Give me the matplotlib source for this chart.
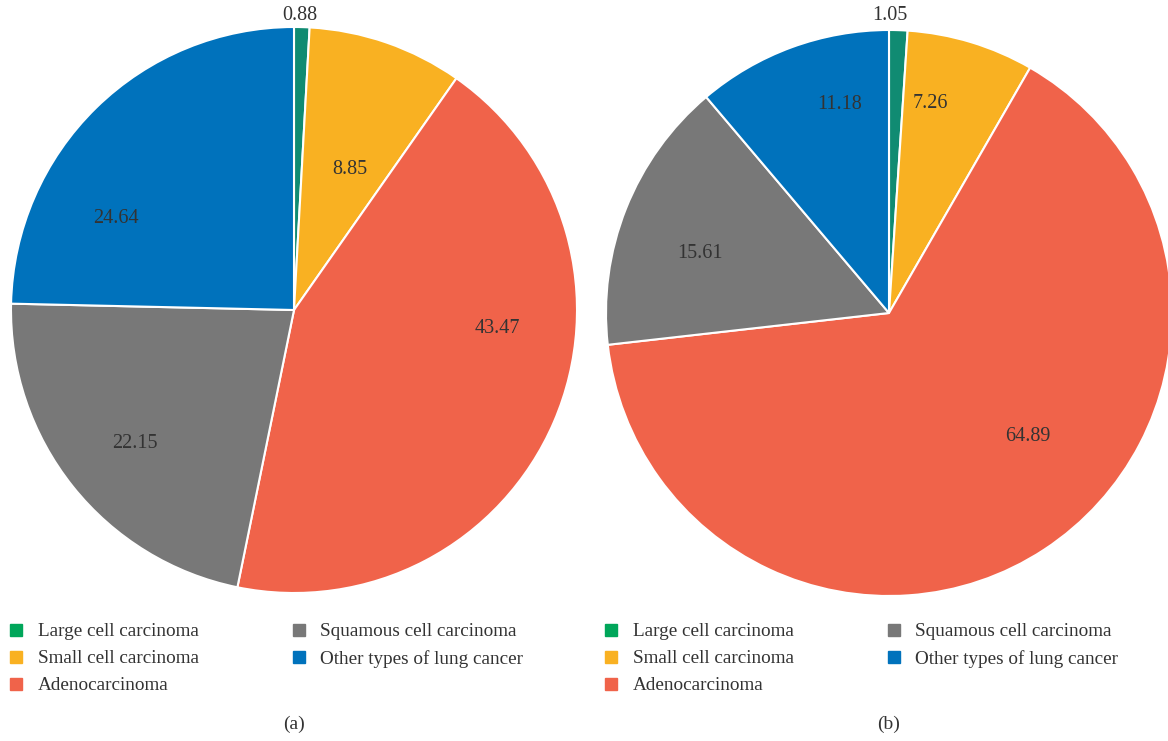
import matplotlib.pyplot as plt
from matplotlib.lines import Line2D

categories = ['Large cell carcinoma', 'Small cell carcinoma', 'Adenocarcinoma',
              'Squamous cell carcinoma', 'Other types of lung cancer']
values_a = [0.88, 8.85, 43.47, 22.15, 24.64]
values_b = [1.05, 7.26, 64.89, 15.61, 11.18]
captions = ['(a)', '(b)']

colors = ['#108b72', '#f9b122', '#f0634a', '#787878', '#0072bc']
legend_colors = ['#00a65a', '#f9b122', '#f0634a', '#787878', '#0072bc']
text_col = '#333333'

plt.rcParams['font.family'] = ['Liberation Serif', 'DejaVu Serif']

W, H = 1168, 741
fig = plt.figure(figsize=(W / 100, H / 100), dpi=100)

# pie centres / radius in pixels
centres = [(294, 310), (889, 313)]
R = 283
# value label positions, in units of the pie radius
label_pos = [[(0.021, 1.042), (0.198, 0.498), (0.717, -0.064), (-0.562, -0.470), (-0.629, 0.322)],
             [(0.004, 1.053), (0.145, 0.742), (0.491, -0.435), (-0.668, 0.212), (-0.173, 0.735)]]


def draw_pie(vals, cx, cy, lpos, cap):
    ax = fig.add_axes([(cx - R) / W, (H - cy - R) / H, 2 * R / W, 2 * R / H])
    ax.pie(vals, colors=colors, startangle=90, counterclock=False,
           radius=1, wedgeprops=dict(edgecolor='white', linewidth=1.5))
    for v, (x, y) in zip(vals, lpos):
        ax.text(x, y, f'{v:.2f}', ha='center', va='center',
                fontsize=14.5, color=text_col)
    ax.set_xlim(-1, 1)
    ax.set_ylim(-1, 1)
    ax.set_aspect('auto')
    ax.axis('off')

    handles = [Line2D([], [], marker='s', linestyle='none', markersize=8.8,
                      markerfacecolor=c, markeredgecolor=c) for c in legend_colors]
    fig.legend(handles, categories, loc='upper left',
               bbox_to_anchor=((cx - 294 + 9) / W, (H - 623) / H), ncol=2,
               frameon=False, fontsize=13.8, handlelength=0.75, handletextpad=0.75,
               columnspacing=4.85, labelspacing=0.5, borderaxespad=0, borderpad=0,
               labelcolor=text_col)
    fig.text(cx / W, (H - 724) / H, cap, ha='center', va='center', fontsize=14,
             color=text_col)


draw_pie(values_a, *centres[0], label_pos[0], captions[0])
draw_pie(values_b, *centres[1], label_pos[1], captions[1])

fig.savefig('out.png', dpi=100)
